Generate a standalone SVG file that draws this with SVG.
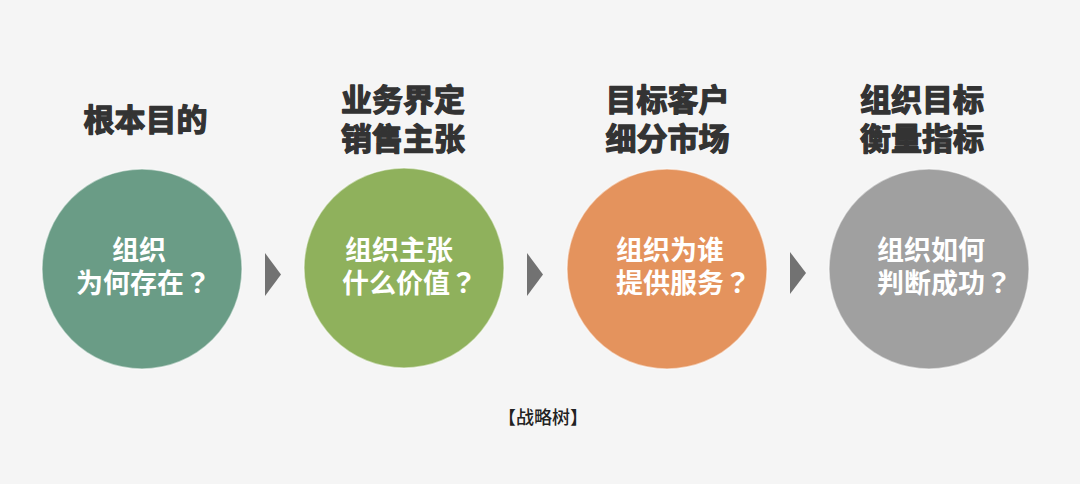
<svg xmlns="http://www.w3.org/2000/svg" width="1080" height="484" viewBox="0 0 1080 484">
<style>
.t{font-family:"Noto Sans CJK SC","Noto Sans",sans-serif;font-weight:700;font-size:31px;fill:#333;stroke:#333;stroke-width:1.3px;stroke-linejoin:round;text-anchor:middle}
.c{font-family:"Noto Sans CJK SC","Noto Sans",sans-serif;font-weight:700;font-size:27px;fill:#fff}
.q{font-family:"Noto Sans CJK JP","Noto Sans CJK SC",sans-serif}
.cap{font-family:"Noto Sans CJK SC","Noto Sans",sans-serif;font-weight:500;font-size:18px;fill:#222;text-anchor:middle}
.arr{fill:#727272}
circle{stroke:#fff;stroke-opacity:.5;stroke-width:1.5}
</style>
<rect width="1080" height="484" fill="#f5f5f5"/>
<g id="node1">
<text class="t" x="145.5" y="131">根本目的</text>
<circle cx="142" cy="269" r="100" fill="#6a9c86"/>
<text class="c" x="112" y="260">组织</text>
<text class="c" x="76" y="293">为何存在<tspan class="q">？</tspan></text>
</g>
<g id="node2">
<text class="t" x="403" y="111">业务界定</text>
<text class="t" x="403" y="150">销售主张</text>
<circle cx="404" cy="268" r="100" fill="#8fb15c"/>
<text class="c" x="345" y="260">组织主张</text>
<text class="c" x="342" y="293">什么价值<tspan class="q">？</tspan></text>
</g>
<g id="node3">
<text class="t" x="667.5" y="111">目标客户</text>
<text class="t" x="667.5" y="150">细分市场</text>
<circle cx="667" cy="269" r="100" fill="#e4935d"/>
<text class="c" x="616" y="260">组织为谁</text>
<text class="c" x="616" y="293">提供服务<tspan class="q">？</tspan></text>
</g>
<g id="node4">
<text class="t" x="922" y="111">组织目标</text>
<text class="t" x="922" y="150">衡量指标</text>
<circle cx="929" cy="269" r="100" fill="#a0a0a0"/>
<text class="c" x="877" y="260">组织如何</text>
<text class="c" x="877" y="293">判断成功<tspan class="q">？</tspan></text>
</g>
<g id="connectors">
<polygon class="arr" points="265,253 281,274.5 265,296"/>
<polygon class="arr" points="527,253 543,274.5 527,296"/>
<polygon class="arr" points="790,252 806,273 790,294"/>
</g>
<text class="cap" x="543" y="424">【战略树】</text>
</svg>
